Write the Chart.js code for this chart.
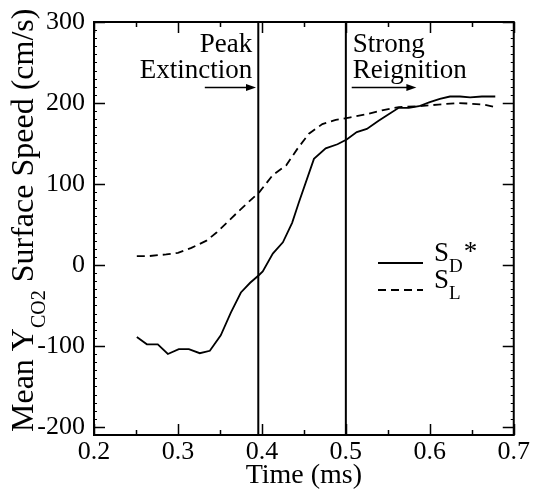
<!DOCTYPE html>
<html><head><meta charset="utf-8">
<script src="https://cdn.jsdelivr.net/npm/chart.js@4"></script>
<style>html,body{margin:0;padding:0;background:#fff;}</style>
</head><body>
<canvas id="c" width="534" height="493"></canvas>
<script>
// ---- data ----
const SD_TIME  = [0.251,0.263,0.276,0.288,0.301,0.313,0.326,0.338,0.351,0.363,0.375,0.386,0.396,0.401,0.413,0.425,0.436,0.444,0.462,0.476,0.490,0.501,0.513,0.525,0.539,0.551,0.563,0.575,0.587,0.600,0.612,0.624,0.636,0.648,0.662,0.678];
const SD_SPEED = [-89,-98,-98,-110,-104,-104,-109,-106,-87,-59,-34,-22,-13,-8,14,28,52,77,131,144,149,155,164,168,178,186,194,194,196,201,205,208,208,207,208,208];
const SL_TIME  = [0.251,0.266,0.286,0.300,0.316,0.334,0.346,0.361,0.375,0.397,0.413,0.429,0.442,0.456,0.472,0.488,0.504,0.524,0.543,0.563,0.587,0.610,0.634,0.650,0.665,0.678];
const SL_SPEED = [11,11,13,15,21,30,40,55,69,90,111,123,143,162,174,179,182,186,191,195,196,198,200,199,198,195];
const SERIES_NAMES = ["S_D*", "S_L"];
const X_TICKS = [0.2,0.3,0.4,0.5,0.6,0.7];
const Y_TICKS = [-200,-100,0,100,200,300];
const EVENT_TIMES = [0.3957, 0.5];
const EVENT_LABELS = [["Peak","Extinction"],["Strong","Reignition"]];
const ARROW_FROM = [0.332, 0.507];
const ARROW_TO   = [0.393, 0.584];
const ARROW_LEVEL = 219;

const FONT = '"Liberation Serif", "Times New Roman", serif';

function pts(xs, ys){ return xs.map((x,i)=>({x:x, y:ys[i]})); }

const decor = {
  id:'decor',
  afterDraw(chart){
    const ctx = chart.ctx, a = chart.chartArea;
    const xs = chart.scales.x, ys = chart.scales.y;
    ctx.save();
    ctx.strokeStyle = '#000'; ctx.fillStyle = '#000';
    // frame
    ctx.lineWidth = 2;
    ctx.strokeRect(a.left, a.top, a.right - a.left, a.bottom - a.top);
    // ticks
    ctx.lineWidth = 1.5;
    ctx.beginPath();
    X_TICKS.forEach(v=>{
      const p = Math.round(xs.getPixelForValue(v))+0.5;
      ctx.moveTo(p, a.bottom); ctx.lineTo(p, a.bottom-11);
      ctx.moveTo(p, a.top); ctx.lineTo(p, a.top+11);
    });
    for (let i=0;i<X_TICKS.length-1;i++){
      const v = (X_TICKS[i]+X_TICKS[i+1])/2;
      const p = Math.round(xs.getPixelForValue(v))+0.5;
      ctx.moveTo(p, a.bottom); ctx.lineTo(p, a.bottom-5);
      ctx.moveTo(p, a.top); ctx.lineTo(p, a.top+5);
    }
    Y_TICKS.forEach(v=>{
      const p = Math.round(ys.getPixelForValue(v))+0.5;
      ctx.moveTo(a.left, p); ctx.lineTo(a.left+11, p);
      ctx.moveTo(a.right, p); ctx.lineTo(a.right-11, p);
    });
    ctx.stroke();
    ctx.lineWidth = 1;
    ctx.beginPath();
    for (let v = ys.min; v <= ys.max; v += 10){
      if (Y_TICKS.includes(v)) continue;
      const p = Math.round(ys.getPixelForValue(v))+0.5;
      ctx.moveTo(a.left, p); ctx.lineTo(a.left+3, p);
      ctx.moveTo(a.right, p); ctx.lineTo(a.right-3, p);
    }
    ctx.stroke();
    // event lines
    ctx.lineWidth = 2;
    ctx.beginPath();
    EVENT_TIMES.forEach(t=>{
      const p = xs.getPixelForValue(t);
      ctx.moveTo(p, a.top); ctx.lineTo(p, a.bottom);
    });
    ctx.stroke();
    // arrows
    ctx.lineWidth = 1.5;
    const ay = ys.getPixelForValue(ARROW_LEVEL);
    ARROW_FROM.forEach((f,i)=>{
      const x1 = xs.getPixelForValue(f), x2 = xs.getPixelForValue(ARROW_TO[i]);
      ctx.beginPath(); ctx.moveTo(x1, ay); ctx.lineTo(x2-6, ay); ctx.stroke();
      ctx.beginPath(); ctx.moveTo(x2, ay); ctx.lineTo(x2-10, ay-3.5); ctx.lineTo(x2-10, ay+3.5); ctx.closePath(); ctx.fill();
    });
    // event labels
    ctx.font = '27px ' + FONT;
    ctx.textBaseline = 'alphabetic';
    EVENT_LABELS.forEach((lines,i)=>{
      const p = xs.getPixelForValue(EVENT_TIMES[i]);
      const right = i === 0;
      ctx.textAlign = right ? 'right' : 'left';
      const x = right ? p - 6 : p + 7;
      lines.forEach((s,j)=> ctx.fillText(s, x, a.top + 30 + j*25.5));
    });
    // legend
    const ds = chart.data.datasets;
    const rows = [263, 290];
    ds.forEach((d,i)=>{
      ctx.lineWidth = d.borderWidth;
      ctx.setLineDash(d.borderDash || []);
      ctx.beginPath(); ctx.moveTo(378, rows[i]); ctx.lineTo(423, rows[i]); ctx.stroke();
      ctx.setLineDash([]);
      const [main, rest] = SERIES_NAMES[i].split('_');
      const sub = rest.replace('*','');
      const star = rest.endsWith('*') ? '*' : '';
      ctx.textAlign = 'left';
      let x = 434; const base = rows[i] - 2;
      ctx.font = '27px ' + FONT; ctx.fillText(main, x, base); x += ctx.measureText(main).width;
      ctx.font = '19px ' + FONT; ctx.fillText(sub, x, base + 11); x += ctx.measureText(sub).width;
      if (star){ ctx.font = '27px ' + FONT; ctx.fillText(star, x + 1, base - 1); }
    });
    // y axis title with subscript
    ctx.save();
    ctx.translate(33, 432); ctx.rotate(-Math.PI/2);
    ctx.textAlign = 'left'; ctx.textBaseline = 'alphabetic';
    let tx = 0;
    ctx.font = '32px ' + FONT; ctx.fillText('Mean Y', tx, 0); tx += ctx.measureText('Mean Y').width;
    ctx.font = '20px ' + FONT; ctx.fillText('CO2', tx, 12); tx += ctx.measureText('CO2').width;
    ctx.font = '32px ' + FONT; ctx.fillText(' Surface Speed (cm/s)', tx, 0);
    ctx.restore();
    ctx.restore();
  }
};

new Chart(document.getElementById('c'), {
  type: 'scatter',
  data: { datasets: [
    { label: SERIES_NAMES[0], data: pts(SD_TIME, SD_SPEED), showLine: true, borderColor: '#000', borderWidth: 1.8, pointRadius: 0, fill: false, tension: 0 },
    { label: SERIES_NAMES[1], data: pts(SL_TIME, SL_SPEED), showLine: true, borderColor: '#000', borderWidth: 1.8, borderDash: [8,5], pointRadius: 0, fill: false, tension: 0 }
  ]},
  options: {
    responsive: false, animation: false, devicePixelRatio: 1,
    layout: { padding: { left: 0, top: 14, right: 19, bottom: 0 } },
    plugins: { legend: { display: false }, tooltip: { enabled: false } },
    scales: {
      x: {
        type: 'linear', min: 0.2, max: 0.7,
        afterBuildTicks: s => { s.ticks = X_TICKS.map(v => ({ value: v })); },
        afterFit: s => { s.height = 58; },
        grid: { display: false, drawTicks: false }, border: { display: false },
        ticks: { padding: 4, color: '#000', autoSkip: false, maxRotation: 0, font: { family: FONT, size: 26, lineHeight: 1 }, callback: v => Number(v).toFixed(1) },
        title: { display: true, text: 'Time (ms)', color: '#000', font: { family: FONT, size: 28, lineHeight: 1 }, padding: { top: 0, bottom: 3 } }
      },
      y: {
        type: 'linear', min: -210, max: 300,
        afterBuildTicks: s => { s.ticks = Y_TICKS.map(v => ({ value: v })); },
        afterFit: s => { s.width = 94; },
        grid: { display: false, drawTicks: false }, border: { display: false },
        ticks: { padding: 9, color: '#000', autoSkip: false, font: { family: FONT, size: 26, lineHeight: 1 }, callback: v => String(v) }
      }
    }
  },
  plugins: [decor]
});
</script>
</body></html>
